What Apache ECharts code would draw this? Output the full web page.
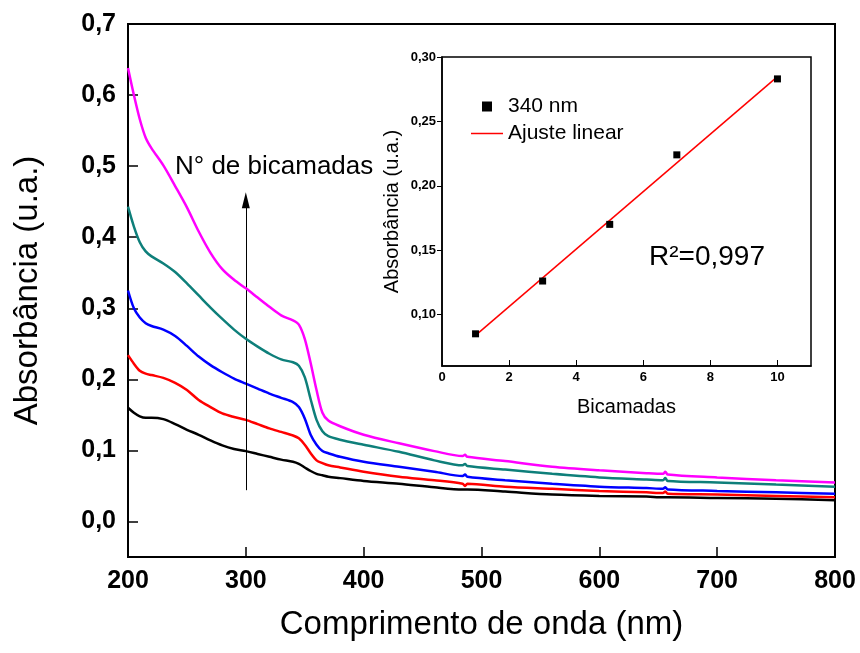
<!DOCTYPE html>
<html>
<head>
<meta charset="utf-8">
<script src="https://cdn.jsdelivr.net/npm/echarts@6/dist/echarts.min.js"></script>
<style>
  html, body { margin: 0; padding: 0; background: #fff; }
  #chart { width: 860px; height: 653px; }
</style>
</head>
<body>
<div id="chart"></div>
<script>
// Wavelengths (nm) shared by all spectra
const wavelengths = [200, 205, 210, 215, 220, 230, 240, 250, 260, 270, 280, 290, 300, 310, 320, 330, 340, 345, 350, 355, 360, 365, 370, 380, 400, 430, 460, 484, 486, 488, 520, 560, 600, 640, 654, 656, 658, 700, 750, 800];

// Absorbance spectra for each number of bilayers
const abs1 = [0.160, 0.153, 0.148, 0.146, 0.146, 0.144, 0.137, 0.129, 0.122, 0.114, 0.107, 0.102, 0.099, 0.095, 0.091, 0.087, 0.084, 0.081, 0.076, 0.071, 0.067, 0.065, 0.063, 0.061, 0.057, 0.053, 0.048, 0.045, 0.045, 0.045, 0.042, 0.038, 0.036, 0.035, 0.034, 0.034, 0.034, 0.033, 0.032, 0.030];
const abs3 = [0.234, 0.222, 0.212, 0.208, 0.206, 0.202, 0.195, 0.185, 0.171, 0.161, 0.152, 0.147, 0.143, 0.137, 0.131, 0.126, 0.121, 0.117, 0.108, 0.096, 0.086, 0.082, 0.079, 0.076, 0.070, 0.063, 0.058, 0.053, 0.050, 0.053, 0.049, 0.046, 0.043, 0.041, 0.040, 0.042, 0.039, 0.038, 0.036, 0.034];
const abs5 = [0.325, 0.300, 0.287, 0.279, 0.275, 0.270, 0.261, 0.247, 0.232, 0.220, 0.210, 0.201, 0.194, 0.187, 0.180, 0.174, 0.168, 0.161, 0.145, 0.122, 0.108, 0.099, 0.096, 0.091, 0.084, 0.077, 0.070, 0.064, 0.066, 0.063, 0.058, 0.053, 0.049, 0.047, 0.046, 0.048, 0.045, 0.043, 0.041, 0.039];
const abs7 = [0.443, 0.415, 0.393, 0.380, 0.373, 0.363, 0.351, 0.335, 0.318, 0.301, 0.285, 0.270, 0.257, 0.246, 0.236, 0.228, 0.224, 0.219, 0.203, 0.172, 0.143, 0.127, 0.120, 0.115, 0.108, 0.098, 0.086, 0.079, 0.081, 0.078, 0.073, 0.067, 0.062, 0.059, 0.058, 0.061, 0.057, 0.055, 0.052, 0.049];
const abs10 = [0.638, 0.600, 0.566, 0.540, 0.525, 0.501, 0.472, 0.442, 0.408, 0.378, 0.355, 0.340, 0.328, 0.315, 0.302, 0.290, 0.283, 0.277, 0.257, 0.223, 0.185, 0.153, 0.142, 0.134, 0.122, 0.110, 0.099, 0.092, 0.094, 0.091, 0.085, 0.077, 0.072, 0.068, 0.067, 0.070, 0.066, 0.062, 0.058, 0.055];

// Inset: absorbance at 340 nm versus number of bilayers
const bilayers = [1, 3, 5, 7, 10];
const abs340 = [0.085, 0.126, 0.170, 0.224, 0.283];
// Linear fit end points
const fitX = [1, 10];
const fitY = [0.0838, 0.2848];

// Tick values
const mainYTicks = [0, 0.1, 0.2, 0.3, 0.4, 0.5, 0.6, 0.7];
const insetXTicks = [0, 2, 4, 6, 8, 10];
const insetYTicks = [0.10, 0.15, 0.20, 0.25, 0.30];

// Arrow marking growth with bilayer number
const arrowX = 300;
const arrowFrom = 0.044;
const arrowTo = 0.452;

const FONT = '"Liberation Sans", Arial, Helvetica, sans-serif';
const comma = (v, d) => v.toFixed(d).replace('.', ',');
const zip = (xs, ys) => xs.map((x, i) => [x, ys[i]]);

const spectra = [
  { name: '1 bicamada', data: abs1, color: '#000000' },
  { name: '3 bicamadas', data: abs3, color: '#ff0000' },
  { name: '5 bicamadas', data: abs5, color: '#0000ff' },
  { name: '7 bicamadas', data: abs7, color: '#0e7f7a' },
  { name: '10 bicamadas', data: abs10, color: '#ff00ff' }
];

const chart = echarts.init(document.getElementById('chart'), null, { renderer: 'canvas' });

const series = spectra.map((s, i) => ({
  type: 'line',
  name: s.name,
  xAxisIndex: 0,
  yAxisIndex: 0,
  data: zip(wavelengths, s.data),
  showSymbol: false,
  smooth: 0.3,
  lineStyle: { color: s.color, width: 2.5 },
  itemStyle: { color: s.color },
  z: 2 + i,
  silent: true
}));

// Arrow drawn as a mark line on the first spectrum
series[0].markLine = {
  silent: true,
  symbol: ['none', 'triangle'],
  symbolSize: [8, 16],
  label: { show: false },
  lineStyle: { color: '#000', width: 1, type: 'solid' },
  data: [[{ coord: [arrowX, arrowFrom] }, { coord: [arrowX, arrowTo] }]]
};

series.push({
  type: 'scatter',
  name: '340 nm',
  xAxisIndex: 1,
  yAxisIndex: 1,
  data: zip(bilayers, abs340),
  symbol: 'rect',
  symbolSize: 7,
  itemStyle: { color: '#000', opacity: 1 },
  z: 6,
  silent: true
});
series.push({
  type: 'line',
  name: 'Ajuste linear',
  xAxisIndex: 1,
  yAxisIndex: 1,
  data: zip(fitX, fitY),
  showSymbol: false,
  lineStyle: { color: '#ff0000', width: 1.5 },
  itemStyle: { color: '#ff0000' },
  z: 5,
  silent: true
});

const option = {
  backgroundColor: '#ffffff',
  animation: false,
  textStyle: { fontFamily: FONT },
  grid: [
    { left: 128, right: 25, top: 24, bottom: 96, show: true, borderColor: '#000', borderWidth: 2, backgroundColor: 'transparent' },
    { left: 442, right: 49, top: 57, bottom: 287, show: true, borderColor: '#000', borderWidth: 1.5, backgroundColor: 'transparent' }
  ],
  xAxis: [
    {
      type: 'value', gridIndex: 0, min: 200, max: 800, interval: 100,
      axisLine: { show: true, onZero: false, lineStyle: { color: '#000', width: 2 } },
      axisTick: { show: true, inside: true, length: 10, lineStyle: { color: '#000', width: 1.5 } },
      axisLabel: { margin: 12, color: '#000', fontSize: 25, fontWeight: 'bold', fontFamily: FONT },
      splitLine: { show: false },
      name: 'Comprimento de onda (nm)', nameLocation: 'middle', nameGap: 51,
      nameTextStyle: { fontSize: 33, color: '#000', fontFamily: FONT }
    },
    {
      type: 'value', gridIndex: 1, min: 0, max: 11,
      axisLine: { show: true, onZero: false, lineStyle: { color: '#000', width: 1.5 } },
      axisTick: { show: true, inside: true, length: 6, customValues: insetXTicks, lineStyle: { color: '#000', width: 1 } },
      axisLabel: { margin: 5, color: '#000', fontSize: 13, fontWeight: 'bold', fontFamily: FONT, customValues: insetXTicks },
      splitLine: { show: false },
      name: 'Bicamadas', nameLocation: 'middle', nameGap: 31,
      nameTextStyle: { fontSize: 20, color: '#000', fontFamily: FONT }
    }
  ],
  yAxis: [
    {
      type: 'value', gridIndex: 0, min: -0.05, max: 0.7,
      axisLine: { show: true, onZero: false, lineStyle: { color: '#000', width: 2 } },
      axisTick: { show: true, inside: true, length: 10, customValues: mainYTicks, lineStyle: { color: '#000', width: 1.5 } },
      axisLabel: { margin: 12, color: '#000', fontSize: 25, fontWeight: 'bold', fontFamily: FONT, customValues: mainYTicks, formatter: v => comma(v, 1) },
      splitLine: { show: false },
      name: 'Absorbância (u.a.)', nameLocation: 'middle', nameGap: 84,
      nameTextStyle: { fontSize: 33, color: '#000', fontFamily: FONT }
    },
    {
      type: 'value', gridIndex: 1, min: 0.06, max: 0.30,
      axisLine: { show: true, onZero: false, lineStyle: { color: '#000', width: 1.5 } },
      axisTick: { show: true, inside: false, length: 5, customValues: insetYTicks, lineStyle: { color: '#000', width: 1 } },
      axisLabel: { margin: 6, color: '#000', fontSize: 13, fontWeight: 'bold', fontFamily: FONT, customValues: insetYTicks, formatter: v => comma(v, 2) },
      splitLine: { show: false },
      name: 'Absorbância (u.a.)', nameLocation: 'middle', nameGap: 40,
      nameTextStyle: { fontSize: 20, color: '#000', fontFamily: FONT }
    }
  ],
  legend: {
    left: 466, top: 91, orient: 'vertical',
    itemWidth: 32, itemHeight: 10, itemGap: 6,
    symbolKeepAspect: true, selectedMode: false,
    textStyle: { fontSize: 21, color: '#000', fontFamily: FONT, lineHeight: 21 },
    data: [
      { name: '340 nm', icon: 'path://M0,0H10V10H0Z' },
      { name: 'Ajuste linear', icon: 'path://M0,0H32V1.5H0Z' }
    ]
  },
  graphic: [
    { type: 'text', left: 175, top: 154, style: { text: 'N° de bicamadas', font: '26px ' + FONT, fill: '#000' } },
    { type: 'text', left: 649, top: 243, style: { text: 'R²=0,997', font: '28px ' + FONT, fill: '#000' } }
  ],
  series: series
};

chart.setOption(option);
</script>
</body>
</html>
